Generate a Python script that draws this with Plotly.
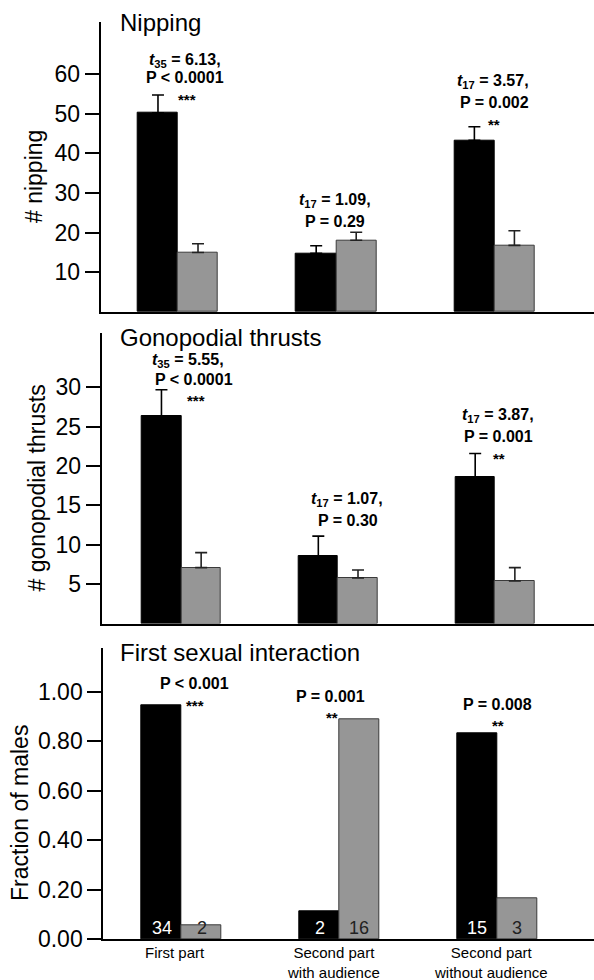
import plotly.graph_objects as go

# ---- data -----------------------------------------------------------------
categories = ["First part", "Second part<br>with audience", "Second part<br>without audience"]

nipping_black = [50.2, 14.8, 43.3]
nipping_black_se = [4.5, 1.9, 3.4]
nipping_gray = [15.0, 18.1, 16.8]
nipping_gray_se = [2.2, 2.0, 3.7]

thrusts_black = [26.3, 8.6, 18.6]
thrusts_black_se = [3.4, 2.5, 3.0]
thrusts_gray = [7.1, 5.8, 5.4]
thrusts_gray_se = [1.9, 1.0, 1.7]

first_black_n = [34, 2, 15]
first_gray_n = [2, 16, 3]

nipping_ticks = [10, 20, 30, 40, 50, 60]
thrusts_ticks = [5, 10, 15, 20, 25, 30]
fraction_ticks = [0.0, 0.2, 0.4, 0.6, 0.8, 1.0]

nipping_stats = ["<i>t</i><sub>35</sub> = 6.13,", "P < 0.0001", "***",
                 "<i>t</i><sub>17</sub> = 1.09,", "P = 0.29",
                 "<i>t</i><sub>17</sub> = 3.57,", "P = 0.002", "**"]
thrusts_stats = ["<i>t</i><sub>35</sub> = 5.55,", "P < 0.0001", "***",
                 "<i>t</i><sub>17</sub> = 1.07,", "P = 0.30",
                 "<i>t</i><sub>17</sub> = 3.87,", "P = 0.001", "**"]
fraction_stats = ["P < 0.001", "***", "P = 0.001", "**", "P = 0.008", "**"]

totals = [b + g for b, g in zip(first_black_n, first_gray_n)]
first_black = [b / t for b, t in zip(first_black_n, totals)]
first_gray = [g / t for g, t in zip(first_gray_n, totals)]

# ---- layout geometry (pixels of a 594 x 980 page) ---------------------------
W, H = 594, 980
FONT = "Liberation Sans, Arial, Helvetica, sans-serif"
BLACK = "#000000"
GRAY = "#969696"
GRAY_EDGE = "#3a3a3a"
BAR_W = 0.253

def pyf(px):
    return 1 - px / H

panels = [
    dict(left=100.7, top=21.7, bottom=312.0, xr=[-0.4886, 2.6296], yr=[0, 73.2],
         ticks=nipping_ticks, fmt="d", title="Nipping", title_y=23,
         ytitle="# nipping", ytitle_x=34, ytitle_y=177,
         black=nipping_black, black_se=nipping_black_se,
         gray=nipping_gray, gray_se=nipping_gray_se,
         stats=nipping_stats,
         stat_pos=[(0.044, 63.0), (0.044, 59.2), (0.057, 54.7),
                   (0.992, 27.5), (0.992, 22.7),
                   (1.989, 57.7), (1.998, 52.9), (1.995, 48.4)]),
    dict(left=101.7, top=333.0, bottom=623.5, xr=[-0.5075, 2.631], yr=[0, 36.9],
         ticks=thrusts_ticks, fmt="d", title="Gonopodial thrusts", title_y=337.5,
         ytitle="# gonopodial thrusts", ytitle_x=36.5, ytitle_y=488,
         black=thrusts_black, black_se=thrusts_black_se,
         gray=thrusts_gray, gray_se=thrusts_gray_se,
         stats=thrusts_stats,
         stat_pos=[(0.045, 33.2), (0.079, 31.0), (0.092, 28.8),
                   (1.056, 15.46), (1.06, 13.1),
                   (2.016, 26.2), (2.019, 23.8), (2.027, 21.5)]),
    dict(left=103.3, top=648.3, bottom=939.3, xr=[-0.4968, 2.613], yr=[0, 1.175],
         ticks=fraction_ticks, fmt=".2f", title="First sexual interaction", title_y=652.7,
         ytitle="Fraction of males", ytitle_x=20, ytitle_y=813,
         black=first_black, black_se=None, gray=first_gray, gray_se=None,
         stats=fraction_stats,
         stat_pos=[(0.080, 1.034), (0.082, 0.962),
                   (0.946, 0.980), (0.951, 0.910),
                   (2.004, 0.949), (2.006, 0.879)]),
]

xpos = [0, 1, 2]
fig = go.Figure()
annotations = []
layout = dict(
    width=W, height=H, margin=dict(l=0, r=0, t=0, b=0, autoexpand=False),
    paper_bgcolor="white", plot_bgcolor="white", showlegend=False, bargap=0,
    font=dict(family=FONT, color="black"),
)

for i, p in enumerate(panels):
    n = "" if i == 0 else str(i + 1)
    xa, ya = "x" + n, "y" + n

    def err(se, color):
        if se is None:
            return None
        return dict(type="data", array=se, arrayminus=[0] * len(se), symmetric=False,
                    color=color, thickness=1.6, width=6)

    fig.add_trace(go.Bar(x=xpos, y=p["black"], width=BAR_W, offset=-BAR_W,
                         marker=dict(color=BLACK, line=dict(color=BLACK, width=1)),
                         error_y=err(p["black_se"], BLACK), xaxis=xa, yaxis=ya,
                         hoverinfo="skip"))
    fig.add_trace(go.Bar(x=xpos, y=p["gray"], width=BAR_W, offset=0,
                         marker=dict(color=GRAY, line=dict(color=GRAY_EDGE, width=1)),
                         error_y=err(p["gray_se"], "#222222"), xaxis=xa, yaxis=ya,
                         hoverinfo="skip"))

    layout["xaxis" + n] = dict(
        domain=[p["left"] / W, 1], range=p["xr"], anchor=ya, automargin=False,
        showline=True, linecolor="black", linewidth=2, showgrid=False, zeroline=False,
        ticks="", showticklabels=False, fixedrange=True,
    )
    layout["yaxis" + n] = dict(
        domain=[pyf(p["bottom"]), pyf(p["top"])], range=p["yr"], anchor=xa,
        automargin=False,
        showline=True, linecolor="black", linewidth=2, showgrid=False, zeroline=False,
        ticks="outside", ticklen=14, tickwidth=2, tickcolor="black",
        tickvals=p["ticks"], tickformat=p["fmt"],
        tickfont=dict(family=FONT, size=23, color="black"), fixedrange=True,
    )

    # panel title and axis title
    annotations.append(dict(text=p["title"], xref="paper", yref="paper",
                            x=118 / W, y=pyf(p["title_y"]), xanchor="left", yanchor="middle",
                            showarrow=False, font=dict(family=FONT, size=24)))
    annotations.append(dict(text=p["ytitle"], xref="paper", yref="paper", textangle=-90,
                            x=p["ytitle_x"] / W, y=pyf(p["ytitle_y"]),
                            xanchor="center", yanchor="middle",
                            showarrow=False, font=dict(family=FONT, size=23)))

    # statistics above the bar pairs
    for txt, (sx, sy) in zip(p["stats"], p["stat_pos"]):
        star = txt.startswith("*")
        tline = txt.startswith("<i>")
        annotations.append(dict(text="<b>" + txt + "</b>", xref=xa, yref=ya, x=sx, y=sy,
                                xanchor="center", yanchor="middle", showarrow=False,
                                yshift=-4 if star else (2 if tline else 0),
                                font=dict(family=FONT, size=15 if star else 16)))

# category names under the last panel
for k, cat in enumerate(categories):
    annotations.append(dict(text=cat, xref="x3", yref="paper", x=xpos[k] - 0.04, y=pyf(942),
                            xanchor="center", yanchor="top", showarrow=False,
                            font=dict(family=FONT, size=15, color="black")))

# sample sizes written at the foot of the bars in the last panel
for k in range(3):
    annotations.append(dict(text=str(first_black_n[k]), xref="x3", yref="y3",
                            x=xpos[k] - BAR_W / 2, y=0, yanchor="bottom", yshift=-1,
                            showarrow=False, font=dict(family=FONT, size=18, color="white")))
    annotations.append(dict(text=str(first_gray_n[k]), xref="x3", yref="y3",
                            x=xpos[k] + BAR_W / 2, y=0, yanchor="bottom", yshift=-1,
                            showarrow=False, font=dict(family=FONT, size=18, color="#222222")))

layout["annotations"] = annotations
fig.update_layout(**layout)
fig.write_html("out.html")
